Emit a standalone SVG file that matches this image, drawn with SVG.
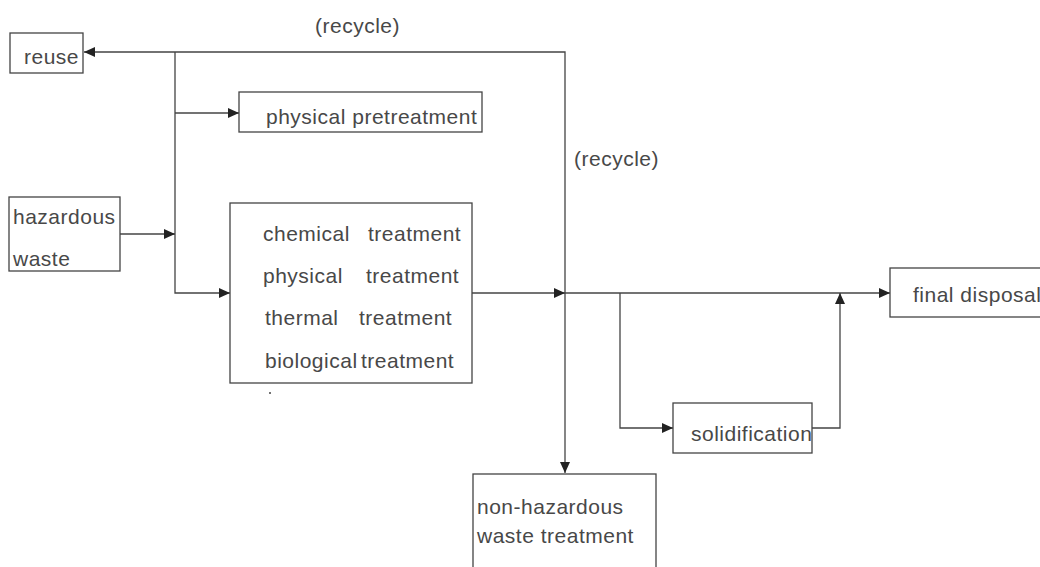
<svg xmlns="http://www.w3.org/2000/svg" width="1040" height="567" viewBox="0 0 1040 567">
<style>
.box{fill:#fff;stroke:#444;stroke-width:1.3}
.lbl{font-family:"Liberation Sans",Arial,sans-serif;font-size:21px;fill:#484848;letter-spacing:0.5px}
.ln{fill:none;stroke:#444;stroke-width:1.3}
</style>
<defs>
<marker id="ah" markerUnits="userSpaceOnUse" markerWidth="12" markerHeight="10" refX="11" refY="5" orient="auto">
<path d="M0,0 L11,5 L0,10 Z" fill="#222"/>
</marker>
</defs>
<rect width="1040" height="567" fill="#fff"/>
<g id="connectors">
<path class="ln" d="M565,293 V52 H84" marker-end="url(#ah)"/>
<path class="ln" d="M565,293 V473" marker-end="url(#ah)"/>
<path class="ln" d="M175,52 V293 H230" marker-end="url(#ah)"/>
<path class="ln" d="M175,113 H239" marker-end="url(#ah)"/>
<path class="ln" d="M120,234 H175" marker-end="url(#ah)"/>
<path class="ln" d="M472,293 H565" marker-end="url(#ah)"/>
<path class="ln" d="M565,293 H890" marker-end="url(#ah)"/>
<path class="ln" d="M620,293 V428 H673" marker-end="url(#ah)"/>
<path class="ln" d="M812,428 H840 V293" marker-end="url(#ah)"/>
<text class="lbl" x="315" y="33">(recycle)</text>
<text class="lbl" x="574" y="166">(recycle)</text>
</g>
<g id="reuse">
<rect class="box" x="10" y="33" width="73" height="40"/>
<text class="lbl" x="24" y="64">reuse</text>
</g>
<g id="physical-pretreatment">
<rect class="box" x="239" y="92" width="243" height="40"/>
<text class="lbl" x="266" y="124">physical pretreatment</text>
</g>
<g id="hazardous-waste">
<rect class="box" x="9" y="197" width="111" height="74"/>
<text class="lbl" x="13" y="224">hazardous</text>
<text class="lbl" x="13" y="266">waste</text>
</g>
<g id="treatments">
<rect class="box" x="230" y="203" width="242" height="180"/>
<text class="lbl" x="263" y="241">chemical <tspan x="368">treatment</tspan></text>
<text class="lbl" x="263" y="283">physical <tspan x="366">treatment</tspan></text>
<text class="lbl" x="265" y="325">thermal <tspan x="359">treatment</tspan></text>
<text class="lbl" x="265" y="368">biological <tspan x="361">treatment</tspan></text>
<circle cx="270" cy="393" r="1" fill="#444"/>
</g>
<g id="final-disposal">
<rect class="box" x="890" y="268" width="160" height="49"/>
<text class="lbl" x="913" y="302">final disposal</text>
</g>
<g id="solidification">
<rect class="box" x="673" y="403" width="139" height="50"/>
<text class="lbl" x="691" y="441">solidification</text>
</g>
<g id="non-hazardous">
<rect class="box" x="473" y="474" width="183" height="110"/>
<text class="lbl" x="477" y="514">non-hazardous</text>
<text class="lbl" x="477" y="543">waste treatment</text>
</g>
</svg>
